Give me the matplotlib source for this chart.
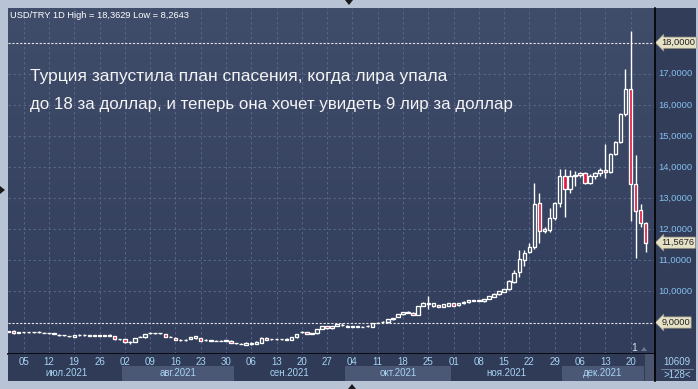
import matplotlib
matplotlib.use("Agg")
import matplotlib.pyplot as plt
import numpy as np
import pandas as pd
from matplotlib.patches import Rectangle, Polygon
from matplotlib.colors import LinearSegmentedColormap

plt.rcParams['font.family'] = ['Liberation Sans', 'DejaVu Sans']

# trading days 30.06.2021 - 23.12.2021
dates = pd.bdate_range('2021-06-30', '2021-12-23')

opens = [8.70, 8.73, 8.67, 8.68, 8.68, 8.68, 8.68, 8.66, 8.65, 8.64,
         8.59, 8.59, 8.55, 8.53, 8.59, 8.59, 8.58, 8.58, 8.58, 8.58,
         8.58, 8.55, 8.46, 8.47, 8.38, 8.38, 8.54, 8.52, 8.66, 8.65,
         8.65, 8.62, 8.53, 8.51, 8.44, 8.44, 8.47, 8.49, 8.49, 8.44,
         8.42, 8.41, 8.41, 8.41, 8.42, 8.33, 8.32, 8.28, 8.31, 8.31,
         8.35, 8.51, 8.46, 8.46, 8.46, 8.45, 8.44, 8.52, 8.70, 8.68,
         8.64, 8.65, 8.79, 8.89, 8.81, 8.89, 8.92, 8.90, 8.87, 8.87,
         8.86, 8.88, 8.87, 8.99, 9.02, 9.01, 9.10, 9.19, 9.26, 9.31,
         9.32, 9.24, 9.53, 9.61, 9.53, 9.56, 9.51, 9.54, 9.62, 9.56,
         9.62, 9.65, 9.70, 9.70, 9.68, 9.75, 9.83, 9.91, 9.99, 10.07,
         10.30, 10.61, 11.01, 11.26, 11.42, 12.83, 11.95, 11.99, 12.37, 12.84,
         13.71, 13.29, 13.71, 13.73, 13.80, 13.50, 13.71, 13.80, 13.91, 13.83,
         14.42, 14.80, 15.71, 16.50, 13.46, 12.61, 12.19]
highs = [8.74, 8.75, 8.70, 8.70, 8.71, 8.70, 8.73, 8.69, 8.67, 8.66,
         8.63, 8.61, 8.58, 8.61, 8.62, 8.62, 8.60, 8.60, 8.60, 8.61,
         8.62, 8.56, 8.48, 8.48, 8.42, 8.50, 8.56, 8.63, 8.69, 8.67,
         8.67, 8.63, 8.55, 8.52, 8.46, 8.46, 8.53, 8.56, 8.50, 8.46,
         8.44, 8.43, 8.43, 8.44, 8.43, 8.35, 8.34, 8.36, 8.36, 8.39,
         8.52, 8.52, 8.48, 8.48, 8.48, 8.49, 8.53, 8.64, 8.73, 8.69,
         8.66, 8.80, 8.90, 8.90, 8.90, 8.96, 8.97, 8.91, 8.89, 8.89,
         8.88, 8.91, 8.98, 9.01, 9.05, 9.11, 9.16, 9.27, 9.34, 9.37,
         9.33, 9.54, 9.65, 9.85, 9.63, 9.57, 9.59, 9.63, 9.63, 9.64,
         9.68, 9.73, 9.73, 9.73, 9.76, 9.86, 9.94, 10.02, 10.09, 10.36,
         10.69, 11.33, 11.33, 11.55, 13.49, 13.18, 12.06, 12.67, 12.89, 13.94,
         13.94, 13.91, 13.88, 13.85, 13.83, 13.77, 13.85, 13.96, 14.73, 14.45,
         14.85, 15.75, 17.14, 18.3629, 14.39, 12.81, 12.24]
lows = [8.69, 8.64, 8.65, 8.66, 8.66, 8.66, 8.66, 8.65, 8.63, 8.62,
        8.58, 8.57, 8.52, 8.52, 8.58, 8.58, 8.56, 8.56, 8.56, 8.56,
        8.56, 8.45, 8.44, 8.35, 8.30, 8.37, 8.52, 8.51, 8.64, 8.63,
        8.63, 8.53, 8.52, 8.43, 8.42, 8.42, 8.46, 8.48, 8.41, 8.42,
        8.40, 8.39, 8.39, 8.40, 8.34, 8.31, 8.30, 8.2643, 8.29, 8.30,
        8.34, 8.43, 8.44, 8.45, 8.44, 8.44, 8.43, 8.51, 8.67, 8.62,
        8.62, 8.64, 8.78, 8.80, 8.80, 8.88, 8.90, 8.84, 8.85, 8.85,
        8.84, 8.86, 8.86, 8.97, 9.01, 9.00, 9.09, 9.18, 9.25, 9.29,
        9.23, 9.23, 9.52, 9.43, 9.50, 9.49, 9.50, 9.53, 9.53, 9.54,
        9.60, 9.64, 9.68, 9.68, 9.67, 9.74, 9.82, 9.90, 9.98, 10.05,
        10.28, 10.45, 10.82, 11.23, 11.37, 11.57, 11.87, 11.92, 12.30, 12.72,
        12.40, 13.16, 13.39, 13.67, 13.45, 13.45, 13.62, 13.72, 13.64, 13.80,
        14.38, 14.78, 15.65, 12.27, 11.08, 12.08, 11.28]
closes = [8.73, 8.66, 8.68, 8.68, 8.69, 8.68, 8.69, 8.67, 8.65, 8.64,
          8.61, 8.60, 8.56, 8.60, 8.60, 8.60, 8.59, 8.58, 8.58, 8.58,
          8.58, 8.47, 8.46, 8.36, 8.38, 8.49, 8.54, 8.62, 8.66, 8.65,
          8.65, 8.54, 8.54, 8.44, 8.44, 8.45, 8.52, 8.55, 8.42, 8.44,
          8.42, 8.41, 8.41, 8.43, 8.35, 8.33, 8.31, 8.35, 8.35, 8.38,
          8.51, 8.44, 8.46, 8.47, 8.46, 8.48, 8.52, 8.63, 8.70, 8.63,
          8.64, 8.79, 8.89, 8.81, 8.89, 8.95, 8.92, 8.85, 8.87, 8.87,
          8.87, 8.89, 8.97, 8.99, 9.03, 9.10, 9.15, 9.26, 9.33, 9.34,
          9.24, 9.53, 9.64, 9.62, 9.62, 9.51, 9.58, 9.62, 9.54, 9.62,
          9.67, 9.72, 9.71, 9.71, 9.75, 9.85, 9.93, 10.01, 10.08, 10.33,
          10.60, 11.03, 11.25, 11.42, 12.80, 11.94, 12.01, 12.35, 12.83, 13.72,
          13.29, 13.71, 13.74, 13.82, 13.50, 13.71, 13.80, 13.91, 13.83, 14.42,
          14.80, 15.71, 16.50, 13.46, 12.58, 12.19, 11.5676]

price_ticks = [10, 11, 12, 13, 14, 15, 16, 17]
marked_levels = [18.0, 9.0]
last_price = 11.5676
months_ru = ['июл', 'авг', 'сен', 'окт', 'ноя', 'дек']

title = 'USD/TRY 1D High = 18,3629 Low = 8,2643'
headline = ['Турция запустила план спасения, когда лира упала',
            'до 18 за доллар, и теперь она хочет увидеть 9 лир за доллар']

W, H = 698, 389
fig = plt.figure(figsize=(W / 100, H / 100), dpi=100)
fig.patch.set_facecolor('#b8c4d5')


def fx(px):
    return px / W


def fy(py):
    return 1 - py / H


bg = '#37445f'
fig.add_artist(Rectangle((fx(8), fy(381)), fx(696) - fx(8), fy(8) - fy(381),
                         transform=fig.transFigure, fc='#313d59', ec='none', zorder=0))

ax = fig.add_axes([fx(8), fy(354), fx(655) - fx(8), fy(8) - fy(354)])
n = len(dates)
x = np.arange(n)
xmin, xmax = -0.1, 127.84
ymin, ymax = 7.987, 19.116
ax.set_xlim(xmin, xmax)
ax.set_ylim(ymin, ymax)

grad = LinearSegmentedColormap.from_list('g', ['#313d5a', '#3f4c6a'])
ax.imshow(np.linspace(0, 1, 100).reshape(-1, 1), cmap=grad, origin='lower',
          extent=[xmin, xmax, ymin, ymax], aspect='auto', zorder=0)

mondays = [i for i, d in enumerate(dates) if d.weekday() == 0]
for i in mondays:
    ax.axvline(i, color='#5a6b8e', lw=0.6, ls=(0, (3, 3)), zorder=1)
for v in price_ticks:
    ax.axhline(v, color='#5a6b8e', lw=0.6, ls=(0, (3, 3)), zorder=1)
for v in marked_levels:
    ax.axhline(v, color='#e8e8e8', lw=0.8, ls=(0, (2, 1.5)), zorder=2)

o = np.array(opens)
c = np.array(closes)
up = c >= o
ax.vlines(x, lows, highs, color='white', lw=1.0, zorder=3)
body_lo = np.minimum(o, c)
body_h = np.maximum(np.abs(c - o), 0.008)
ax.bar(x[up], body_h[up], bottom=body_lo[up], width=0.68, color=bg,
       edgecolor='white', lw=0.95, zorder=4)
ax.bar(x[~up], body_h[~up], bottom=body_lo[~up], width=0.68, color='#e3163f',
       edgecolor='white', lw=0.95, zorder=4)

for s in ax.spines.values():
    s.set_visible(False)
ax.spines['bottom'].set_visible(True)
ax.spines['bottom'].set_color('black')
ax.spines['bottom'].set_linewidth(1.2)
ax.set_xticks([])
ax.set_yticks([])

ax.text(0.003, 0.979, title, transform=ax.transAxes, color='white',
        fontsize=6.7, va='center', ha='left')
ax.text(0.034, 0.803, headline[0], transform=ax.transAxes, color='#f4f4f4',
        fontsize=12.5, va='center', ha='left')
ax.text(0.034, 0.72, headline[1], transform=ax.transAxes, color='#f4f4f4',
        fontsize=12.2, va='center', ha='left')

# right price scale
ytr = ax.get_yaxis_transform()
for v in price_ticks:
    ax.annotate(f'{v},0000', xy=(1, v), xycoords=ytr, xytext=(2.4, 0),
                textcoords='offset points', va='center', ha='left',
                color='#86c0f0', fontsize=6.8, annotation_clip=False)
for v in marked_levels + [last_price]:
    lab = f'{v:.4f}'.replace('.', ',')
    ax.annotate(lab, xy=(1, v), xycoords=ytr, xytext=(4.5, 0),
                textcoords='offset points', va='center', ha='left',
                color='#222222', fontsize=6.7, annotation_clip=False,
                bbox=dict(boxstyle='larrow,pad=0.12', fc='#e6e2c6',
                          ec='#a09c88', lw=0.5))

ax.text(n - 3.2, 8.03, '1', color='#d8dde8', fontsize=7.5, ha='center', va='bottom')

# vertical separator for the price scale
fig.add_artist(plt.Line2D([fx(655), fx(655)], [fy(8), fy(381)], color='black',
                          lw=1.2, transform=fig.transFigure))

# date axis
axd = fig.add_axes([fx(8), fy(381), fx(655) - fx(8), fy(354) - fy(381)])
axd.set_xlim(xmin, xmax)
axd.set_ylim(0, 1)
axd.set_facecolor('#2f3b57')
for s in axd.spines.values():
    s.set_visible(False)
axd.set_xticks([])
axd.set_yticks([])
for i in mondays:
    axd.text(i, 0.70, dates[i].strftime('%d'), color='#a9d2f4', fontsize=7,
             ha='center', va='center')

month_idx = [[i for i, d in enumerate(dates) if d.month == m and d.year == 2021]
             for m in range(7, 13)]
for k, idxs in enumerate(month_idx):
    a, b = idxs[0] - 0.5, min(idxs[-1] + 0.5, 125.6)
    if k % 2 == 1:
        axd.add_patch(Rectangle((a, 0), b - a, 0.56, fc='#4a5876', ec='none', zorder=0))
    axd.text((a + b) / 2, 0.29, f'{months_ru[k]}.2021', color='#a9d2f4',
             fontsize=7, ha='center', va='center')
axd.add_patch(Rectangle((125.8, 0), 1.9, 1.0, fc='#4a5670', ec='none'))

# bottom right counters
fig.text(fx(677), fy(362), '10609', color='#a9d2f4', fontsize=7, ha='center', va='center')
fig.text(fx(677), fy(375), '>128<', color='#a9d2f4', fontsize=7, ha='center', va='center')
fig.add_artist(plt.Line2D([fx(661), fx(693)], [fy(368.5), fy(368.5)], color='#7f8ca6',
                          lw=0.6, transform=fig.transFigure))

# frame arrows
for pts in ([(345, 0), (353, 0), (349, 5)], [(0, 186), (0, 194), (5, 190)],
            [(348, 389), (356, 389), (352, 384)]):
    fig.add_artist(Polygon([(fx(px), fy(py)) for px, py in pts], closed=True,
                           transform=fig.transFigure, fc='#1a1a1a', ec='none'))
fig.add_artist(Polygon([(fx(641), fy(351)), (fx(647), fy(351)), (fx(644), fy(347))],
                       closed=True, transform=fig.transFigure, fc='#6c7890', ec='none'))

fig.savefig('out.png', dpi=100, facecolor=fig.get_facecolor())
